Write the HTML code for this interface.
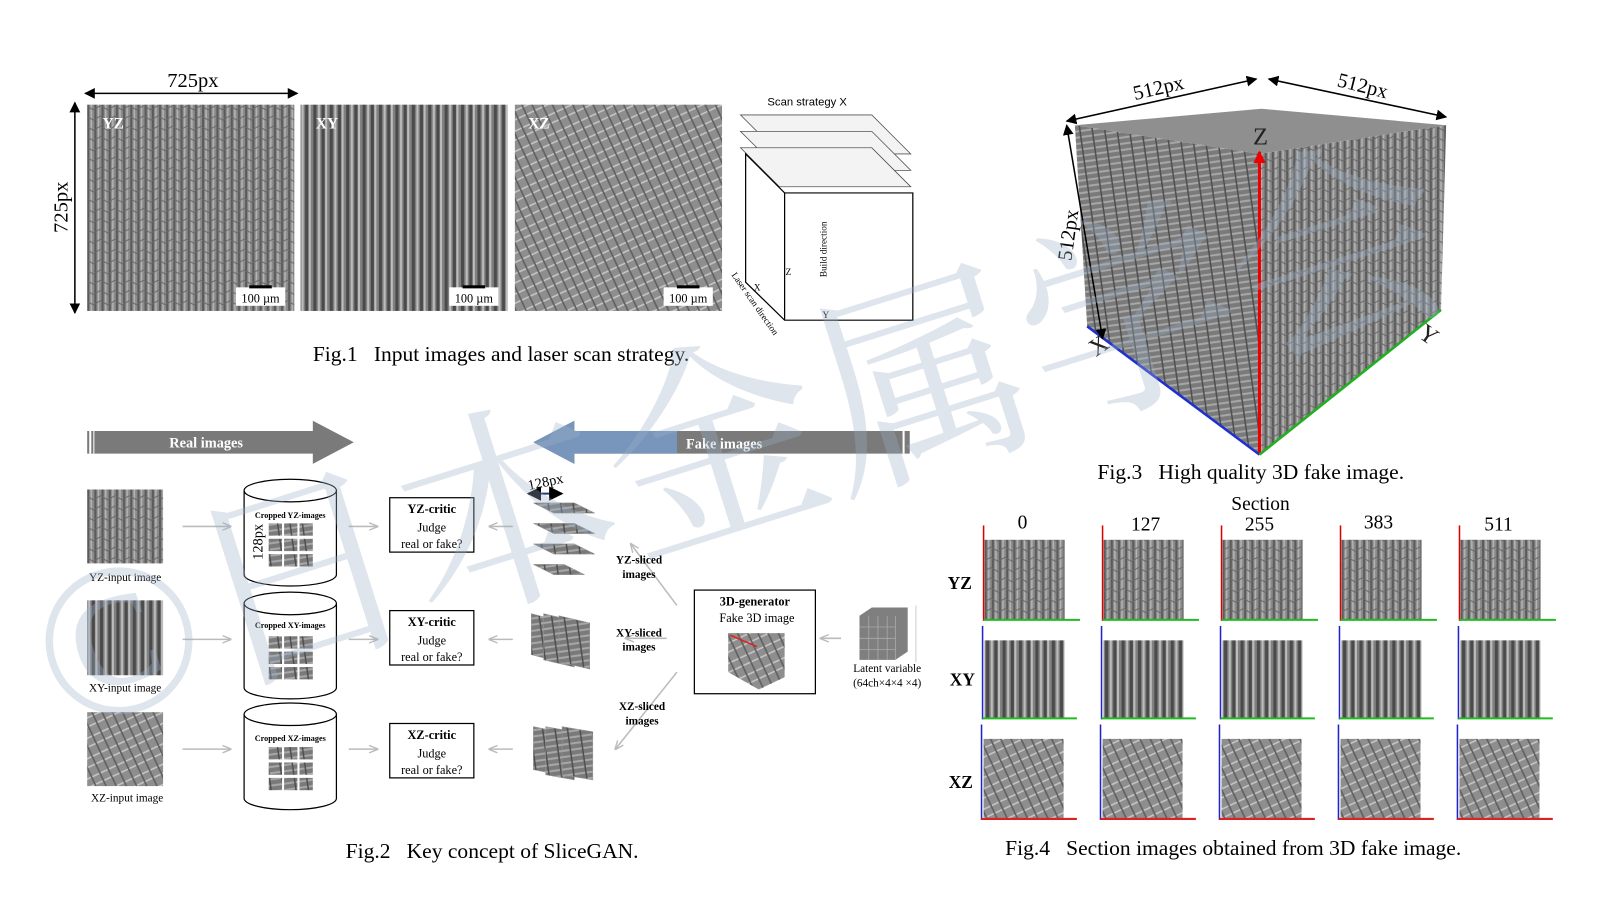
<!DOCTYPE html>
<html><head><meta charset="utf-8"><style>
html,body{margin:0;padding:0;background:#fff;width:1600px;height:900px;overflow:hidden;}
svg{display:block;overflow:hidden;}
text{font-family:"Liberation Serif","Noto Serif CJK SC",serif;}
</style></head><body>
<svg width="1600" height="900" viewBox="0 0 1560 877" preserveAspectRatio="none" xmlns="http://www.w3.org/2000/svg">
<defs>
<pattern id="tv" width="14" height="10" patternUnits="userSpaceOnUse">
<rect width="14" height="10" fill="#8a8a8a"/>
<path d="M2 0v10M9 0v10" stroke="#5a5a5a" stroke-width="2"/>
<path d="M5 0v10M12 0v10" stroke="#b4b4b4" stroke-width="1.5"/>
<path d="M0 3l7 4 7-4" stroke="#6a6a6a" fill="none" stroke-width="1"/>
</pattern>
<pattern id="txy" width="16" height="20" patternUnits="userSpaceOnUse">
<rect width="16" height="20" fill="#808080"/>
<path d="M3 0v20M11 0v20" stroke="#4a4a4a" stroke-width="3"/>
<path d="M7 0v20M14 0v20" stroke="#bdbdbd" stroke-width="2"/>
</pattern>
<pattern id="td" width="18" height="18" patternUnits="userSpaceOnUse" patternTransform="rotate(-25)">
<rect width="18" height="18" fill="#8e8e8e"/>
<path d="M0 4h18M0 12h18" stroke="#c8c8c8" stroke-width="1.5"/>
<path d="M4 0v18M13 0v18" stroke="#606060" stroke-width="1.6"/>
</pattern>
<pattern id="tc" width="12" height="12" patternUnits="userSpaceOnUse" patternTransform="rotate(-8)">
<rect width="12" height="12" fill="#7a7a7a"/>
<path d="M0 3h12M0 9h12" stroke="#a8a8a8" stroke-width="2"/>
<path d="M5 0v12" stroke="#505050" stroke-width="1.5"/>
</pattern>
<marker id="ah" viewBox="0 0 10 10" refX="9" refY="5" markerWidth="7" markerHeight="7" orient="auto-start-reverse"><path d="M0 0L10 5L0 10z" fill="#000"/></marker>
<marker id="ar" viewBox="0 0 10 10" refX="9" refY="5" markerWidth="4" markerHeight="4" orient="auto"><path d="M0 0L10 5L0 10z" fill="#e00"/></marker>
<marker id="ag" viewBox="0 0 10 10" refX="9" refY="5" markerWidth="6" markerHeight="6" orient="auto"><path d="M0 1L10 5L0 9" fill="none" stroke="#bbb" stroke-width="1.5"/></marker>
</defs>

<!-- Fig1 -->
<line x1="83" y1="91" x2="290" y2="91" stroke="#000" stroke-width="1.5" marker-start="url(#ah)" marker-end="url(#ah)"/>
<text x="188" y="85" font-size="20" text-anchor="middle">725px</text>
<line x1="73" y1="100" x2="73" y2="305" stroke="#000" stroke-width="1.5" marker-start="url(#ah)" marker-end="url(#ah)"/>
<text x="66" y="202" font-size="20" text-anchor="middle" transform="rotate(-90 66 202)">725px</text>
<rect x="85" y="102" width="202" height="201" fill="url(#tv)"/>
<rect x="293" y="102" width="202" height="201" fill="url(#txy)"/>
<rect x="502" y="102" width="202" height="201" fill="url(#td)"/>
<g font-size="15" font-weight="bold" fill="#fff"><text x="100" y="125">YZ</text><text x="308" y="125">XY</text><text x="515" y="125">XZ</text></g>
<g font-size="12">
<rect x="230" y="280" width="48" height="18" fill="#fff"/><rect x="243" y="278" width="22" height="3" fill="#000"/><text x="254" y="295" text-anchor="middle">100 µm</text>
<rect x="438" y="280" width="48" height="18" fill="#fff"/><rect x="451" y="278" width="22" height="3" fill="#000"/><text x="462" y="295" text-anchor="middle">100 µm</text>
<rect x="647" y="280" width="48" height="18" fill="#fff"/><rect x="660" y="278" width="22" height="3" fill="#000"/><text x="671" y="295" text-anchor="middle">100 µm</text>
</g>
<text x="787" y="103" font-size="11" text-anchor="middle" style="font-family:'Liberation Sans',sans-serif">Scan strategy X</text>
<g stroke="#555" stroke-width="0.8" fill="#f3f3f3">
<polygon points="722,112 850,112 888,150 760,150"/>
<polygon points="722,128 850,128 888,166 760,166"/>
<polygon points="722,144 850,144 888,182 760,182"/>
</g>
<g stroke="#000" fill="none" stroke-width="1.2">
<polygon points="727,150 765,188 890,188 890,312 765,312 727,275"/>
<line x1="765" y1="188" x2="765" y2="312"/>
</g>
<g font-size="9" style="font-family:'Liberation Sans',sans-serif">
<text x="790" y="306" transform="rotate(-90 780 280)">Build direction</text>
<text x="713" y="268" transform="rotate(55 713 268)">Laser scan direction</text>
<text x="802" y="310">Y</text><text x="735" y="283">X</text><text x="766" y="268">Z</text>
</g>
<text x="305" y="352" font-size="21">Fig.1 &#160;&#160;Input images and laser scan strategy.</text>

<!-- Fig3 cube -->
<polygon points="1048,122 1230,106 1410,122 1228,150" fill="#8f8f8f"/>
<polygon points="1048,122 1228,150 1228,443 1060,318" fill="url(#tc)"/>
<polygon points="1228,150 1410,122 1405,302 1228,443" fill="url(#tv)"/>
<line x1="1228" y1="443" x2="1228" y2="148" stroke="#e00" stroke-width="3" marker-end="url(#ar)"/>
<line x1="1228" y1="443" x2="1060" y2="318" stroke="#2030d0" stroke-width="2.5"/>
<line x1="1228" y1="443" x2="1405" y2="302" stroke="#20b020" stroke-width="2.5"/>
<text x="1229" y="141" font-size="24" text-anchor="middle" fill="#222">Z</text>
<text x="1062" y="345" font-size="24" fill="#222" transform="rotate(-35 1070 336)">X</text>
<text x="1385" y="332" font-size="24" fill="#222" transform="rotate(35 1390 324)">Y</text>
<line x1="1040" y1="118" x2="1225" y2="77" stroke="#000" stroke-width="1.5" marker-start="url(#ah)" marker-end="url(#ah)"/>
<line x1="1237" y1="77" x2="1410" y2="114" stroke="#000" stroke-width="1.5" marker-start="url(#ah)" marker-end="url(#ah)"/>
<line x1="1040" y1="122" x2="1075" y2="330" stroke="#000" stroke-width="1.5" marker-start="url(#ah)" marker-end="url(#ah)"/>
<text x="1130" y="92" font-size="20" text-anchor="middle" transform="rotate(-13 1130 88)">512px</text>
<text x="1328" y="90" font-size="20" text-anchor="middle" transform="rotate(14 1328 86)">512px</text>
<text x="1048" y="230" font-size="20" text-anchor="middle" transform="rotate(-82 1048 230)">512px</text>
<text x="1070" y="467" font-size="21">Fig.3 &#160;&#160;High quality 3D fake image.</text>

<!-- Fig4 -->
<text x="1229" y="497" font-size="19" text-anchor="middle">Section</text>
<g font-size="19" text-anchor="middle"><text x="997" y="515">0</text><text x="1117" y="517">127</text><text x="1228" y="517">255</text><text x="1344" y="515">383</text><text x="1461" y="517">511</text></g>
<g font-size="17" font-weight="bold"><text x="924" y="574">YZ</text><text x="926" y="668">XY</text><text x="925" y="768">XZ</text></g>
<g id="c4">
<rect x="960" y="526" width="78" height="78" fill="url(#tv)"/>
<rect x="960" y="624" width="78" height="76" fill="url(#txy)"/>
<rect x="959" y="720" width="78" height="78" fill="url(#td)"/>
<line x1="959" y1="512" x2="959" y2="605" stroke="#d00" stroke-width="1.5"/><line x1="959" y1="604" x2="1053" y2="604" stroke="#2b2" stroke-width="2"/>
<line x1="958" y1="610" x2="958" y2="701" stroke="#22c" stroke-width="1.5"/><line x1="958" y1="700" x2="1050" y2="700" stroke="#2b2" stroke-width="2"/>
<line x1="957" y1="706" x2="957" y2="799" stroke="#22c" stroke-width="1.5"/><line x1="957" y1="798" x2="1050" y2="798" stroke="#d22" stroke-width="2"/>
</g>
<use href="#c4" x="116"/><use href="#c4" x="232"/><use href="#c4" x="348"/><use href="#c4" x="464"/>
<text x="980" y="833" font-size="21">Fig.4 &#160;&#160;Section images obtained from 3D fake image.</text>

<!-- Fig2 banners -->
<polygon points="85,420 305,420 305,410 345,431 305,452 305,442 85,442" fill="#7a7a7a"/>
<rect x="87" y="420" width="2" height="22" fill="#fff"/><rect x="91" y="420" width="1" height="22" fill="#fff"/>
<text x="201" y="436" font-size="14" font-weight="bold" fill="#fff" text-anchor="middle">Real images</text>
<polygon points="887,420 560,420 560,410 520,431 560,452 560,442 887,442" fill="#7a7a7a"/>
<polygon points="660,420 560,420 560,410 520,431 560,452 560,442 660,442" fill="#7896bb"/>
<rect x="880" y="420" width="2" height="22" fill="#fff"/>
<text x="706" y="437" font-size="14" font-weight="bold" fill="#fff" text-anchor="middle">Fake images</text>

<rect x="85" y="477" width="74" height="72" fill="url(#tv)"/>
<rect x="85" y="585" width="74" height="73" fill="url(#txy)"/>
<rect x="85" y="694" width="74" height="72" fill="url(#td)"/>
<g font-size="11" text-anchor="middle"><text x="122" y="566">YZ-input image</text><text x="122" y="674">XY-input image</text><text x="124" y="781">XZ-input image</text></g>
<g stroke="#bbb" stroke-width="1.5" marker-end="url(#ag)">
<line x1="178" y1="513" x2="225" y2="513"/><line x1="178" y1="623" x2="225" y2="623"/><line x1="178" y1="730" x2="225" y2="730"/>
<line x1="340" y1="513" x2="368" y2="513"/><line x1="340" y1="623" x2="368" y2="623"/><line x1="340" y1="730" x2="368" y2="730"/>
<line x1="500" y1="513" x2="477" y2="513"/><line x1="500" y1="623" x2="477" y2="623"/><line x1="500" y1="730" x2="477" y2="730"/>
<line x1="820" y1="622" x2="800" y2="622"/>
<line x1="650" y1="622" x2="610" y2="622"/>
<line x1="660" y1="590" x2="615" y2="530"/>
<line x1="660" y1="655" x2="600" y2="730"/>
</g>
<g id="cyl" stroke="#000" stroke-width="1.2" fill="#fff">
<path d="M238 478 v82 a45 11 0 0 0 90 0 v-82"/>
<ellipse cx="283" cy="478" rx="45" ry="11"/>
<rect x="262" y="510" width="13" height="12" fill="url(#tc)" stroke="none"/><rect x="277" y="510" width="13" height="12" fill="url(#tc)" stroke="none"/><rect x="292" y="510" width="13" height="12" fill="url(#tc)" stroke="none"/>
<rect x="262" y="525" width="13" height="12" fill="url(#tc)" stroke="none"/><rect x="277" y="525" width="13" height="12" fill="url(#tc)" stroke="none"/><rect x="292" y="525" width="13" height="12" fill="url(#tc)" stroke="none"/>
<rect x="262" y="540" width="13" height="12" fill="url(#tc)" stroke="none"/><rect x="277" y="540" width="13" height="12" fill="url(#tc)" stroke="none"/><rect x="292" y="540" width="13" height="12" fill="url(#tc)" stroke="none"/>
</g>
<use href="#cyl" y="110"/><use href="#cyl" y="218"/>
<g font-size="8" font-weight="bold" text-anchor="middle"><text x="283" y="505">Cropped YZ-images</text><text x="283" y="612">Cropped XY-images</text><text x="283" y="722">Cropped XZ-images</text></g>
<text x="256" y="528" font-size="14" text-anchor="middle" transform="rotate(-90 256 528)">128px</text>
<g stroke="#000" stroke-width="1.2" fill="#fff"><rect x="380" y="485" width="82" height="53"/><rect x="380" y="595" width="82" height="53"/><rect x="380" y="705" width="82" height="53"/></g>
<g font-size="12" text-anchor="middle">
<text x="421" y="500" font-weight="bold">YZ-critic</text><text x="421" y="518">Judge</text><text x="421" y="534">real or fake?</text>
<text x="421" y="610" font-weight="bold">XY-critic</text><text x="421" y="628">Judge</text><text x="421" y="644">real or fake?</text>
<text x="421" y="720" font-weight="bold">XZ-critic</text><text x="421" y="738">Judge</text><text x="421" y="754">real or fake?</text>
</g>
<line x1="515" y1="481" x2="548" y2="481" stroke="#1e3d6e" stroke-width="2" marker-start="url(#ah)" marker-end="url(#ah)"/>
<text x="532" y="474" font-size="14" text-anchor="middle" transform="rotate(-12 532 470)">128px</text>
<g fill="url(#tc)" stroke="#999" stroke-width="0.5">
<polygon points="520,490 560,490 580,500 540,500"/><polygon points="520,510 560,510 580,520 540,520"/><polygon points="520,530 560,530 580,540 540,540"/><polygon points="520,550 550,550 570,560 540,560"/>
<polygon points="518,598 545,605 545,645 518,638"/><polygon points="530,598 560,605 560,650 530,643"/><polygon points="545,600 575,607 575,652 545,645"/>
<polygon points="520,708 545,713 545,755 520,750"/><polygon points="532,708 560,713 560,760 532,755"/><polygon points="548,708 578,713 578,760 548,755"/>
</g>
<g font-size="11" font-weight="bold" text-anchor="middle">
<text x="623" y="549">YZ-sliced</text><text x="623" y="563">images</text>
<text x="623" y="620">XY-sliced</text><text x="623" y="634">images</text>
<text x="626" y="692">XZ-sliced</text><text x="626" y="706">images</text>
</g>
<rect x="677" y="575" width="118" height="101" fill="#fff" stroke="#000" stroke-width="1.2"/>
<text x="736" y="590" font-size="12" font-weight="bold" text-anchor="middle">3D-generator</text>
<text x="738" y="606" font-size="12" text-anchor="middle">Fake 3D image</text>
<polygon points="710,617 765,617 765,660 740,672 710,655" fill="url(#td)"/>
<line x1="712" y1="619" x2="738" y2="630" stroke="#d22" stroke-width="1.5"/>
<polygon points="838,600 850,592 885,592 885,635 873,643 838,643" fill="#7f7f7f"/>
<g stroke="#aaa" stroke-width="0.8"><path d="M838 611h35M838 622h35M838 633h35M847 600v43M856 600v43M865 600v43M873 600v43"/></g>
<line x1="893" y1="590" x2="893" y2="645" stroke="#ccc"/>
<text x="865" y="655" font-size="11" text-anchor="middle">Latent variable</text>
<text x="865" y="669" font-size="11" text-anchor="middle">(64ch×4×4 ×4)</text>
<text x="337" y="836" font-size="21">Fig.2 &#160;&#160;Key concept of SliceGAN.</text>

<!-- watermark -->
<g fill="#9fb0c8" fill-opacity="0.33" style="font-family:'Noto Sans CJK JP',sans-serif">
<text x="0" y="0" font-size="212" transform="translate(60,715) rotate(-17.5)">©日本金属学会</text>
</g>
</svg>
</body></html>
